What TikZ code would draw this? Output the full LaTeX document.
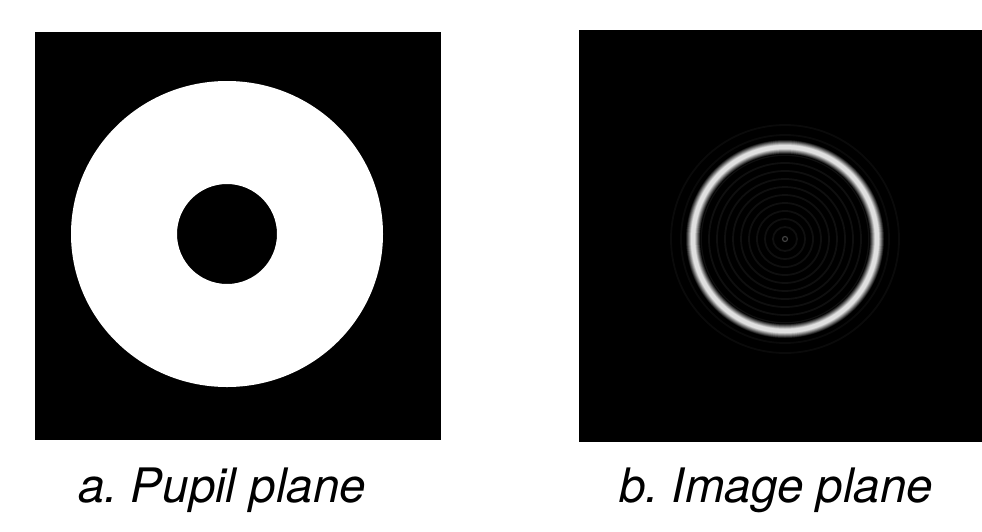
\documentclass[tikz,border=0pt]{standalone}
\usepackage{fontspec}
\setmainfont{TeX Gyre Heros}
\frenchspacing
\begin{document}
\begin{tikzpicture}[x=1pt,y=-1pt,
  caption/.style={font=\itshape\fontsize{47.5}{52}\selectfont, inner sep=0pt, anchor=center},
  faint/.style={line width=1.8pt, color=white!6!black}]
\useasboundingbox (0,0) rectangle (982,531);
% pupil plane
\fill[black] (35,32) rectangle (441,440);
\fill[white,even odd rule] (227,234) ellipse [x radius=156, y radius=153] (227,234) circle (50);
% image plane
\fill[black] (579,30) rectangle (982,442);
\foreach \r in {12,20,...,84} \draw[faint] (785,239) circle (\r);
\foreach \r in {104,114} \draw[faint, color=white!4!black] (785,239) circle (\r);
\draw[line width=1.2pt, color=white!25!black] (785,239) circle (2.5);
\foreach \i [evaluate=\i as \c using int(8*\i), evaluate=\i as \w using 15-\i] in {0,...,11}
  \draw[line width=\w pt, color=white!\c!black] (785,239) circle (92);
% captions
\node[caption] (la) at (222,490) {a. Pupil plane};
\node[caption] (lb) at (776,490) {b. Image plane};
\end{tikzpicture}
\end{document}
